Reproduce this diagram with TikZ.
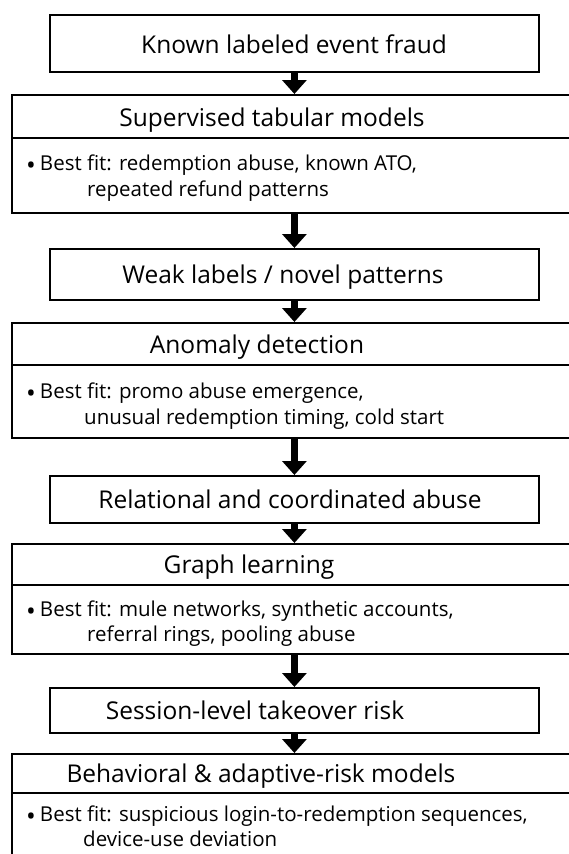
\documentclass[tikz,border=0pt]{standalone}
\usepackage{fontspec}
\setmainfont{Open Sans}
\usetikzlibrary{arrows.meta}
\newcommand{\bigdot}{\raisebox{-4.5pt}{\fontsize{26}{26}\selectfont •}\hspace{4pt}}
\tikzset{
  box/.style={draw=black, line width=1.8pt, rectangle, inner sep=0pt, anchor=north west},
  sepline/.style={draw=black, line width=1.8pt},
  title/.style={anchor=base, inner sep=0pt, font=\fontsize{24.5}{28}\selectfont},
  bullet/.style={anchor=base west, inner sep=0pt, font=\fontsize{20.5}{24}\selectfont},
  flow/.style={draw=black, line width=6.5pt, -{Triangle[width=24pt,length=14pt]}},
}
\begin{document}
\begin{tikzpicture}[x=1pt,y=-1pt]
\useasboundingbox (0,0) rectangle (569,854);
\fill[white] (0,0) rectangle (569,854);
% boxes
\node[box, minimum width=489pt, minimum height=57pt] (b1) at (49,14) {};
\node[box, minimum width=562pt, minimum height=118pt] (b2) at (11,94) {};
\node[box, minimum width=489pt, minimum height=51pt] (b3) at (49,248) {};
\node[box, minimum width=562pt, minimum height=115pt] (b4) at (11,322) {};
\node[box, minimum width=489pt, minimum height=47pt] (b5) at (49,475) {};
\node[box, minimum width=562pt, minimum height=110pt] (b6) at (11,543) {};
\node[box, minimum width=489pt, minimum height=45pt] (b7) at (49,687) {};
\node[box, minimum width=562pt, minimum height=110pt] (b8) at (11,753) {};
% separators
\draw[sepline] (b2.west |- 0,138) -- (b2.east |- 0,138);
\draw[sepline] (b4.west |- 0,365) -- (b4.east |- 0,365);
\draw[sepline] (b6.west |- 0,585) -- (b6.east |- 0,585);
\draw[sepline] (b8.west |- 0,793) -- (b8.east |- 0,793);
% titles
\node[title] (t1) at (294,53) {Known labeled event fraud};
\node[title] (t2) at (272,126) {Supervised tabular models};
\node[title] (t3) at (283,283) {Weak labels / novel patterns};
\node[title] (t4) at (257,353) {Anomaly detection};
\node[title] (t5) at (290,508) {Relational and coordinated abuse};
\node[title] (t6) at (249,573) {Graph learning};
\node[title] (t7) at (255,719) {Session-level takeover risk};
\node[title] (t8) at (261,782) {Behavioral \& adaptive-risk models};
% bullets
\node[bullet] (p2a) at (26,170) {\bigdot Best fit: redemption abuse, known ATO,};
\node[bullet] (p2b) at (87,196) {repeated refund patterns};
\node[bullet] (p4a) at (26,398) {\bigdot Best fit: promo abuse emergence,};
\node[bullet] (p4b) at (84,424) {unusual redemption timing, cold start};
\node[bullet] (p6a) at (26,616) {\bigdot Best fit: mule networks, synthetic accounts,};
\node[bullet] (p6b) at (87,641) {referral rings, pooling abuse};
\node[bullet] (p8a) at (26,821) {\bigdot Best fit: suspicious login-to-redemption sequences,};
\node[bullet] (p8b) at (83,846) {device-use deviation};
% arrows
\draw[flow] (b1.south) -- (b1.south |- b2.north);
\draw[flow] (b2.south -| b1.south) -- (b1.south |- b3.north);
\draw[flow] (b3.south) -- (b3.south |- b4.north);
\draw[flow] (b4.south -| b3.south) -- (b3.south |- b5.north);
\draw[flow] (b5.south) -- (b5.south |- b6.north);
\draw[flow] (b6.south -| b5.south) -- (b5.south |- b7.north);
\draw[flow] (b7.south) -- (b7.south |- b8.north);
\end{tikzpicture}
\end{document}
